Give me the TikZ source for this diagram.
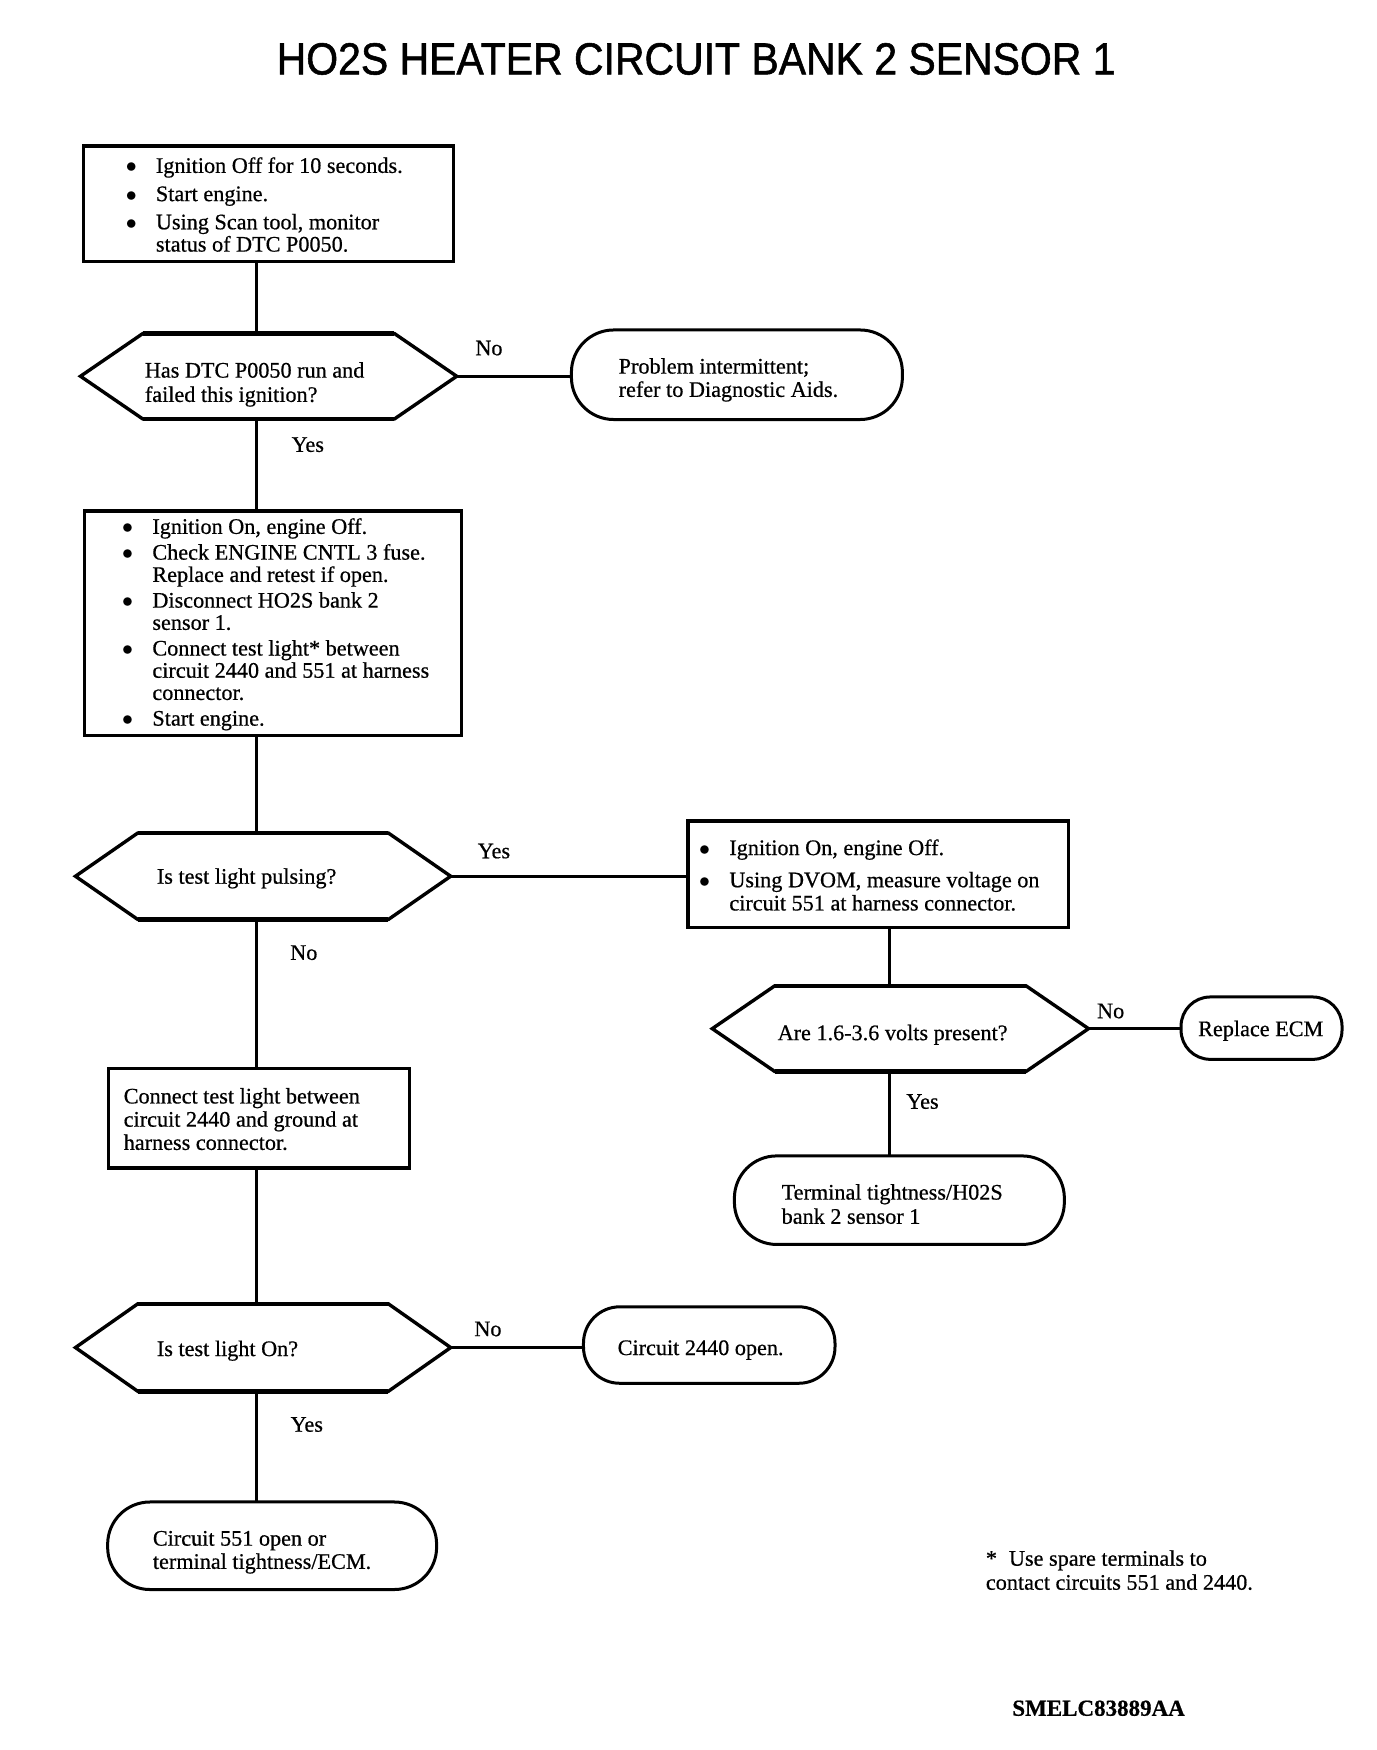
\documentclass[tikz,border=0pt]{standalone}
\usepackage{fontspec}
\setmainfont[FakeBold=0.6]{Liberation Serif}
\newfontfamily\titlefont[FakeStretch=0.91,FakeBold=1.2]{Liberation Sans}
\newdimen\px \px=0.503pt
\newcommand\lbox[4]{\makebox[#1][l]{\hspace*{#2}\raisebox{-#3}[\height][\depth]{\begin{tabular}[c]{@{}l@{}}#4\end{tabular}}}}
\newcommand\mybul{\makebox[30\px][l]{$\bullet$}}
\newcommand\myind{\hspace*{30\px}}
\newcommand\hexpath[1]{\draw[hexline] ([xshift=62\px]#1.north west) -- ([xshift=-62\px]#1.north east) -- (#1.east) -- ([xshift=-62\px]#1.south east) -- ([xshift=62\px]#1.south west) -- (#1.west) -- cycle;
  \draw[hexflat] ([xshift=62\px]#1.north west) -- ([xshift=-62\px]#1.north east);
  \draw[hexflat] ([xshift=62\px]#1.south west) -- ([xshift=-62\px]#1.south east);}
\tikzset{
  body/.style={font=\fontsize{11.1}{11.1}\selectfont, inner sep=0pt, outer sep=0pt},
  procbox/.style={body, draw, rectangle, line width=1.65pt},
  termbox/.style={body, draw, rectangle, line width=1.5pt},
  hexbox/.style={body, rectangle},
  hexline/.style={line width=1.7pt, line join=miter},
  hexflat/.style={line width=2.2pt},
  conn/.style={line width=1.35pt},
  lbl/.style={font=\fontsize{11.1}{11.1}\selectfont, inner sep=0pt},
}
\begin{document}
\begin{tikzpicture}[x=0.503pt,y=-0.503pt]
\useasboundingbox (0pt,0pt) rectangle (688pt,-875pt);
\fill[white] (0pt,0pt) rectangle (688pt,-875pt);

\node[inner sep=0pt, anchor=base, font=\titlefont\fontsize{22.5}{22.5}\selectfont] (title) at (692,74) {HO2S HEATER CIRCUIT BANK 2 SENSOR 1};

\coordinate (spine) at (255,0);
\coordinate (rspine) at (884,0);

% process box 1
\node[procbox, minimum width=368\px, minimum height=115\px] (b1) at (267,202.5)
  {\lbox{368\px}{42\px}{4\px}{\mybul Ignition Off for 10 seconds.\\[3pt]
   \mybul Start engine.\\[3pt]
   \mybul Using Scan tool, monitor\\
   \myind status of DTC P0050.}};

% decision 1
\node[hexbox, minimum width=374\px, minimum height=85\px] (d1) at (267,374)
  {\lbox{374\px}{64\px}{9\px}{Has DTC P0050 run and\\[1pt] failed this ignition?}};
\hexpath{d1}

\node[termbox, minimum width=329\px, minimum height=89\px, rounded corners=42\px] (prob) at (732.5,372.5)
  {\lbox{329\px}{47\px}{6\px}{Problem intermittent;\\[0.5pt] refer to Diagnostic Aids.}};

% process box 2
\node[procbox, minimum width=375\px, minimum height=223\px] (b2) at (271.5,619.5)
  {\lbox{375\px}{37.5\px}{2\px}{\mybul Ignition On, engine Off.\\[1.75pt]
   \mybul Check ENGINE CNTL 3 fuse.\\
   \myind Replace and retest if open.\\[1.75pt]
   \mybul Disconnect HO2S bank 2\\
   \myind sensor 1.\\[1.75pt]
   \mybul Connect test light* between\\
   \myind circuit 2440 and 551 at harness\\
   \myind connector.\\[1.75pt]
   \mybul Start engine.}};

% decision 2
\node[hexbox, minimum width=373\px, minimum height=86\px] (d2) at (261.5,871)
  {\lbox{373\px}{81\px}{3\px}{Is test light pulsing?}};
\hexpath{d2}

% process box 3
\node[procbox, minimum width=378\px, minimum height=106\px] (b3) at (873,869)
  {\lbox{378\px}{11\px}{4\px}{\mybul Ignition On, engine Off.\\[5pt]
   \mybul Using DVOM, measure voltage on\\[0.5pt]
   \myind circuit 551 at harness connector.}};

% decision 3
\node[hexbox, minimum width=374\px, minimum height=85\px] (d3) at (895,1022.5)
  {\lbox{374\px}{65\px}{7\px}{Are 1.6-3.6 volts present?}};
\hexpath{d3}

\node[termbox, minimum width=160\px, minimum height=62\px, rounded corners=29\px] (ecm) at (1254,1022)
  {\lbox{160\px}{17\px}{3.5\px}{Replace ECM}};

\node[termbox, minimum width=328\px, minimum height=88\px, rounded corners=42\px] (term) at (894,1193)
  {\lbox{328\px}{47\px}{7\px}{Terminal tightness/H02S\\[1pt] bank 2 sensor 1}};

% process box 4
\node[procbox, minimum width=299\px, minimum height=99\px] (b4) at (257.5,1111.5)
  {\lbox{299\px}{15\px}{4\px}{Connect test light between\\[0.5pt]
   circuit 2440 and ground at\\[0.5pt]
   harness connector.}};

% decision 4
\node[hexbox, minimum width=373\px, minimum height=87\px] (d4) at (261.5,1339.5)
  {\lbox{373\px}{81\px}{4\px}{Is test light On?}};
\hexpath{d4}

\node[termbox, minimum width=250\px, minimum height=76\px, rounded corners=36\px] (c2440) at (705,1337)
  {\lbox{250\px}{34\px}{5.5\px}{Circuit 2440 open.}};

\node[termbox, minimum width=327\px, minimum height=87\px, rounded corners=42\px] (c551) at (270.5,1536.5)
  {\lbox{327\px}{45\px}{7\px}{Circuit 551 open or\\[0.5pt] terminal tightness/ECM.}};

% connectors
\draw[conn] (b1.south -| spine) -- (d1.north -| spine);
\draw[conn] (d1.east) -- (d1.east -| prob.west);
\draw[conn] (d1.south -| spine) -- (b2.north -| spine);
\draw[conn] (b2.south -| spine) -- (d2.north -| spine);
\draw[conn] (d2.east) -- (d2.east -| b3.west);
\draw[conn] (b3.south -| rspine) -- (d3.north -| rspine);
\draw[conn] (d3.east) -- (d3.east -| ecm.west);
\draw[conn] (d3.south -| rspine) -- (term.north -| rspine);
\draw[conn] (d2.south -| spine) -- (b4.north -| spine);
\draw[conn] (b4.south -| spine) -- (d4.north -| spine);
\draw[conn] (d4.east) -- (d4.east -| c2440.west);
\draw[conn] (d4.south -| spine) -- (c551.north -| spine);

% labels
\node[lbl] (l1) at (486,346) {No};
\node[lbl] (l2) at (306,442) {Yes};
\node[lbl] (l3) at (491,846) {Yes};
\node[lbl] (l4) at (302,947) {No};
\node[lbl] (l5) at (1104,1005) {No};
\node[lbl] (l6) at (917,1095) {Yes};
\node[lbl] (l7) at (485,1321) {No};
\node[lbl] (l8) at (305,1416) {Yes};

% footnote
\node[body, anchor=west] (foot) at (980,1563.5)
  {\fontsize{11.1}{12}\selectfont\begin{tabular}{@{}l@{}}*\hspace{6pt}Use spare terminals to\\ contact circuits 551 and 2440.\end{tabular}};

\node[body, font=\fontsize{11.5}{11.5}\selectfont\bfseries] (code) at (1092,1698) {SMELC83889AA};
\end{tikzpicture}
\end{document}
